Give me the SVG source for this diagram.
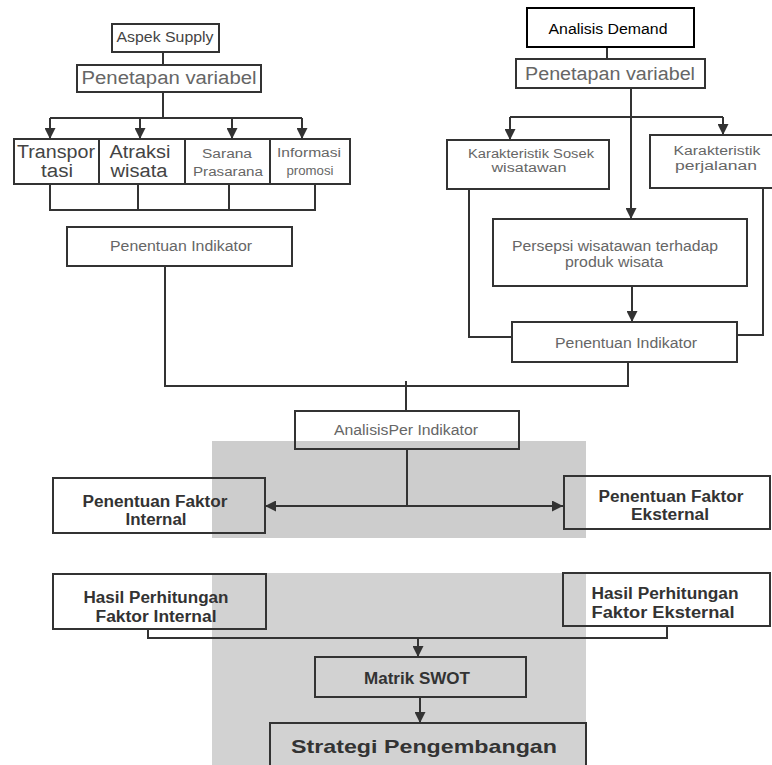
<svg xmlns="http://www.w3.org/2000/svg" width="772" height="765" viewBox="0 0 772 765">
<defs>
<style>
.bx{fill:none;stroke:#333;stroke-width:2}
.bk{fill:#fff;stroke:#000;stroke-width:2}
.ln{fill:none;stroke:#333;stroke-width:2}
.t{font-family:"Liberation Sans",Arial,sans-serif;text-anchor:middle;fill:#666}
.d{fill:#444}
.k{fill:#000}
.b{font-weight:bold;fill:#333}
</style>
<marker id="ah" viewBox="0 0 10 10" refX="10" refY="5" markerWidth="11" markerHeight="11" markerUnits="userSpaceOnUse" orient="auto-start-reverse">
<path d="M0,0 L10,5 L0,10 z" fill="#333"/>
</marker>
</defs>
<rect width="772" height="765" fill="#fff"/>
<rect x="212" y="441" width="374" height="97" fill="#cdcdcd"/>
<rect x="212" y="573" width="374" height="192" fill="#d2d2d2"/>

<g id="connectors">
<path class="ln" d="M163,52 V65"/>
<path class="ln" d="M163,92 V118 M50,118 H302"/>
<path class="ln" marker-end="url(#ah)" d="M50,118 V139"/>
<path class="ln" marker-end="url(#ah)" d="M140,118 V139"/>
<path class="ln" marker-end="url(#ah)" d="M232,118 V139"/>
<path class="ln" marker-end="url(#ah)" d="M302,118 V139"/>
<path class="ln" d="M50,184 V210 H315 V184 M138,184 V210 M229,184 V210"/>
<path class="ln" d="M165,266 V386 H628 V362"/>
<path class="ln" d="M406,381 V411"/>
<path class="ln" d="M607,47 V59"/>
<path class="ln" marker-end="url(#ah)" d="M631,88 V219"/>
<path class="ln" d="M510,117 H723"/>
<path class="ln" marker-end="url(#ah)" d="M510,117 V140"/>
<path class="ln" marker-end="url(#ah)" d="M723,117 V135"/>
<path class="ln" d="M469,189 V337 H512"/>
<path class="ln" d="M763,188 V335 H737"/>
<path class="ln" marker-end="url(#ah)" d="M632,286 V322"/>
<path class="ln" d="M407,449 V506"/>
<path class="ln" marker-start="url(#ah)" marker-end="url(#ah)" d="M265,506 H563"/>
<path class="ln" d="M148,629 V638 H667 V626"/>
<path class="ln" marker-end="url(#ah)" d="M418,638 V657"/>
<path class="ln" marker-end="url(#ah)" d="M420,697 V723"/>
</g>

<g id="aspek-supply"><rect class="bx" x="112" y="24" width="107" height="28"/><text class="t d" x="165" y="42" font-size="14" textLength="97" lengthAdjust="spacingAndGlyphs">Aspek Supply</text></g>
<g id="penetapan-l"><rect class="bx" x="77" y="65" width="184" height="27"/><text class="t" x="169" y="84" font-size="18" textLength="175" lengthAdjust="spacingAndGlyphs">Penetapan variabel</text></g>
<g id="transportasi"><rect class="bx" x="14" y="139" width="85" height="45"/><text class="t d" x="56" y="158" font-size="18" textLength="78" lengthAdjust="spacingAndGlyphs">Transpor</text><text class="t d" x="57" y="177" font-size="18" textLength="32" lengthAdjust="spacingAndGlyphs">tasi</text></g>
<g id="atraksi"><rect class="bx" x="99" y="139" width="86" height="45"/><text class="t d" x="140" y="158" font-size="18" textLength="61" lengthAdjust="spacingAndGlyphs">Atraksi</text><text class="t d" x="139" y="177" font-size="18" textLength="57" lengthAdjust="spacingAndGlyphs">wisata</text></g>
<g id="sarana"><rect class="bx" x="185" y="139" width="85" height="45"/><text class="t" x="227" y="158" font-size="12.5" textLength="50" lengthAdjust="spacingAndGlyphs">Sarana</text><text class="t" x="228" y="176" font-size="12.5" textLength="70" lengthAdjust="spacingAndGlyphs">Prasarana</text></g>
<g id="informasi"><rect class="bx" x="270" y="139" width="80" height="45"/><text class="t" x="309" y="157" font-size="12.5" textLength="64" lengthAdjust="spacingAndGlyphs">Informasi</text><text class="t" x="310" y="175" font-size="12.5" textLength="47" lengthAdjust="spacingAndGlyphs">promosi</text></g>
<g id="penentuan-l"><rect class="bx" x="67" y="227" width="225" height="39"/><text class="t" x="181" y="251" font-size="14" textLength="142" lengthAdjust="spacingAndGlyphs">Penentuan Indikator</text></g>

<g id="analisis-demand"><rect class="bk" x="527" y="8" width="167" height="39"/><text class="t k" x="608" y="34" font-size="14" textLength="119" lengthAdjust="spacingAndGlyphs">Analisis Demand</text></g>
<g id="penetapan-r"><rect class="bx" x="516" y="59" width="189" height="29"/><text class="t" x="610" y="80" font-size="18" textLength="170" lengthAdjust="spacingAndGlyphs">Penetapan variabel</text></g>
<g id="sosek"><rect class="bx" x="447" y="140" width="162" height="49"/><text class="t" x="531" y="158" font-size="12.5" textLength="126" lengthAdjust="spacingAndGlyphs">Karakteristik Sosek</text><text class="t" x="529" y="172" font-size="12.5" textLength="75" lengthAdjust="spacingAndGlyphs">wisatawan</text></g>
<g id="perjalanan"><rect class="bx" x="650" y="135" width="126" height="53"/><text class="t" x="717" y="155" font-size="12.5" textLength="87" lengthAdjust="spacingAndGlyphs">Karakteristik</text><text class="t" x="716" y="170" font-size="12.5" textLength="82" lengthAdjust="spacingAndGlyphs">perjalanan</text></g>
<g id="persepsi"><rect class="bx" x="493" y="219" width="254" height="67"/><text class="t" x="615" y="251" font-size="14" textLength="206" lengthAdjust="spacingAndGlyphs">Persepsi wisatawan terhadap</text><text class="t" x="614" y="267" font-size="14" textLength="98" lengthAdjust="spacingAndGlyphs">produk wisata</text></g>
<g id="penentuan-r"><rect class="bx" x="512" y="322" width="225" height="40"/><text class="t" x="626" y="348" font-size="14" textLength="142" lengthAdjust="spacingAndGlyphs">Penentuan Indikator</text></g>

<g id="analisis-per"><rect class="bx" x="295" y="411" width="224" height="38"/><text class="t" x="406" y="435" font-size="14" textLength="144" lengthAdjust="spacingAndGlyphs">AnalisisPer Indikator</text></g>
<g id="faktor-internal"><rect class="bx" x="53" y="478" width="212" height="55"/><text class="t b" x="155" y="507" font-size="16" textLength="145" lengthAdjust="spacingAndGlyphs">Penentuan Faktor</text><text class="t b" x="156" y="525" font-size="16" textLength="61" lengthAdjust="spacingAndGlyphs">Internal</text></g>
<g id="faktor-eksternal"><rect class="bx" x="564" y="476" width="206" height="53"/><text class="t b" x="671" y="502" font-size="16" textLength="145" lengthAdjust="spacingAndGlyphs">Penentuan Faktor</text><text class="t b" x="670" y="520" font-size="16" textLength="78" lengthAdjust="spacingAndGlyphs">Eksternal</text></g>
<g id="hasil-internal"><rect class="bx" x="53" y="574" width="213" height="55"/><text class="t b" x="156" y="603" font-size="16" textLength="145" lengthAdjust="spacingAndGlyphs">Hasil Perhitungan</text><text class="t b" x="156" y="622" font-size="16" textLength="121" lengthAdjust="spacingAndGlyphs">Faktor Internal</text></g>
<g id="hasil-eksternal"><rect class="bx" x="563" y="573" width="207" height="53"/><text class="t b" x="665" y="599" font-size="16" textLength="147" lengthAdjust="spacingAndGlyphs">Hasil Perhitungan</text><text class="t b" x="663" y="618" font-size="16" textLength="143" lengthAdjust="spacingAndGlyphs">Faktor Eksternal</text></g>
<g id="matrik-swot"><rect class="bx" x="315" y="657" width="211" height="40"/><text class="t b" x="417" y="684" font-size="16" textLength="106" lengthAdjust="spacingAndGlyphs">Matrik SWOT</text></g>
<g id="strategi"><rect class="bx" x="270" y="723" width="316" height="46"/><text class="t b" x="424" y="753" font-size="19" textLength="266" lengthAdjust="spacingAndGlyphs">Strategi Pengembangan</text></g>
</svg>
